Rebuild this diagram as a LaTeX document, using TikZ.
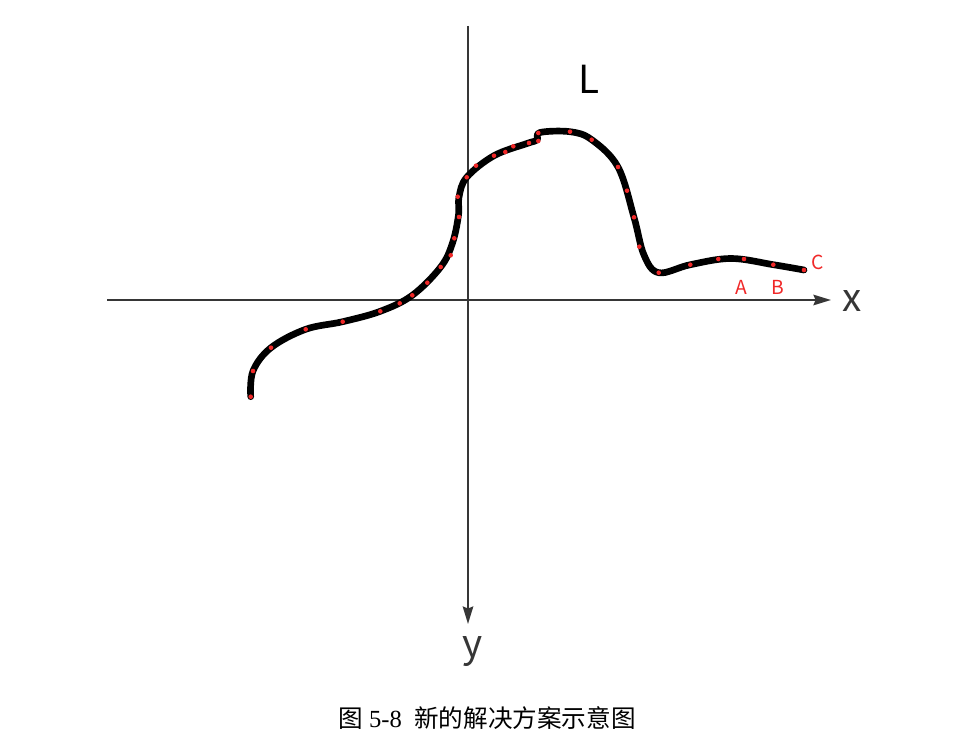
\documentclass[tikz,border=0pt]{standalone}
\usepackage{fontspec}
\setmainfont{Liberation Serif}
\newfontfamily\cjk{Noto Sans CJK SC}
\usepackage{tikz}
\usetikzlibrary{arrows.meta,calc,positioning}
\definecolor{axisgray}{HTML}{363636}
\definecolor{dotred}{HTML}{F02828}

\begin{document}
\begin{tikzpicture}[x=0.02cm, y=-0.02cm,
  axis/.style={draw=axisgray, line width=1.1pt, -{Stealth[length=10pt, width=6pt, inset=1.2pt]}},
  axlabel/.style={font=\cjk\fontsize{22}{24}\selectfont, text=axisgray, inner sep=0pt},
  ptlabel/.style={font=\cjk\fontsize{11}{13}\selectfont, text=dotred, inner sep=0pt},
  curveline/.style={line width=3.8pt, line cap=round, line join=round},
  reddot/.style={fill=dotred, draw=none}]
\useasboundingbox (0,0) rectangle (975,740);
% Achsen
\coordinate (xl) at (107,300);
\coordinate (xr) at (831,300);
\coordinate (yt) at (468,26);
\coordinate (yb) at (468,624);
\draw[axis] (xl) -- (xr);
\draw[axis] (yt) -- (yb);
\node[axlabel] (xlab) at (852,301) {x};
\node[axlabel] (ylab) at (473,652) {y};
\node[axlabel, text=black] (lab) at (589,79) {L};
% Kurve L
\draw[curveline] plot[smooth, tension=0.6] coordinates {(250.7,396.7) (253,371)
    (271,347.7) (305.7,329.3) (342.7,321.7) (380.3,311.3) (412.3,295.3)
    (440.7,267) (452.5,243) (458.5,215) (459,197) (466.7,177.3) (494,155.7)
    (527,143.5) (537,140) (540,132.5) (570,131.7) (591.7,139.7) (618,167)
    (634,217.3) (644,255) (658.7,272.7) (690.3,264.7) (731,258.5)
    (773.3,264.7) (804,270)};
% Stuetzpunkte
\foreach \p/\q in {250.7/396.7, 253/371, 271/347.7, 305.7/329.3, 342.7/321.7,
    380.3/311.3, 399.7/303.3, 412.3/295.3, 427.3/282.7, 440.7/267,
    450.7/255.3, 454.3/238.3, 459/217, 457.7/196.7, 466.7/177.3, 476/165.7,
    494/155.7, 505.3/152, 513.3/146.3, 529/143, 538.3/141, 538.3/133,
    570/131.7, 591.7/139.7, 618/167, 627/190.7, 634/217.3, 639.3/246.7,
    658.7/272.7, 690.3/264.7, 718.3/259, 744/259, 773.3/264.7, 804/270}{
  \fill[reddot] (\p,\q) circle[radius=1.3pt];
}
% Punkte A, B, C
\foreach \p/\q/\lab in {741/287/A, 778/287/B, 818/262/C}{
  \node[ptlabel] (pt\lab) at (\p,\q) {\lab};
}
% Bildunterschrift
\node[inner sep=0pt, font=\fontsize{14}{16}\selectfont] (cap) at (487,718)
  {{\cjk 图}~5-8~~{\cjk 新的解决方案示意图}};
\end{tikzpicture}
\end{document}
